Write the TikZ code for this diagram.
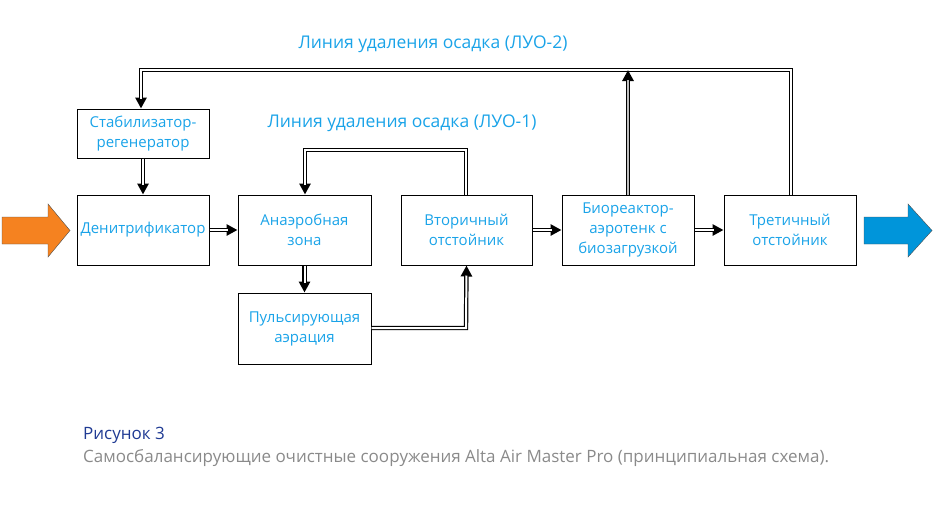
\documentclass[tikz,border=0pt]{standalone}
\usepackage{fontspec}
\setmainfont{Open Sans}
\usetikzlibrary{arrows.meta}
\definecolor{txt}{HTML}{1AA3E8}
\definecolor{cap}{HTML}{1F3A93}
\definecolor{capg}{HTML}{8A8A8A}
\definecolor{org}{HTML}{F58220}
\definecolor{blu}{HTML}{0095DA}
\newcommand{\dlink}[2][white]{%
  \draw[black,line width=4.4pt,-{Stealth[length=11pt,width=11pt,inset=0pt]}] #2;
  \draw[#1,line width=2pt,shorten >=10pt] #2;}
\begin{document}
\begin{tikzpicture}[x=1pt,y=-1pt,
  box/.style={draw,line width=1pt,inner sep=0pt,text=txt,align=center,font=\fontsize{15}{20}\selectfont},
  lbl/.style={text=txt,font=\fontsize{17.5}{20}\selectfont}]
\useasboundingbox (0,0) rectangle (934,512);
\node[box,minimum width=132pt,minimum height=49pt] (stab) at (143,133.5) {Стабилизатор-\\регенератор};
\node[box,minimum width=132pt,minimum height=70pt] (den) at (143,230) {Денитрификатор};
\node[box,minimum width=133pt,minimum height=70pt] (ana) at (304.5,230) {Анаэробная\\зона};
\node[box,minimum width=133pt,minimum height=71pt] (pul) at (304.5,328.5) {Пульсирующая\\аэрация};
\node[box,minimum width=131pt,minimum height=70pt] (vt) at (466.5,230) {Вторичный\\отстойник};
\node[box,minimum width=132pt,minimum height=70pt] (bio) at (628,230) {Биореактор-\\аэротенк с\\биозагрузкой};
\node[box,minimum width=132pt,minimum height=70pt] (tr) at (790,230) {Третичный\\отстойник};
\node[lbl] (l2) at (433,44) {Линия удаления осадка (ЛУО-2)};
\node[lbl] (l1) at (402,123) {Линия удаления осадка (ЛУО-1)};
\node[anchor=west,text=cap,font=\fontsize{17}{20}\selectfont,inner sep=0pt] (c1) at (83,435) {Рисунок 3};
\node[anchor=west,text=capg,font=\fontsize{17}{20}\selectfont,inner sep=0pt] (c2) at (83,458) {Самосбалансирующие очистные сооружения Alta Air Master Pro (принципиальная схема).};
\coordinate (a1) at (141,70);
\coordinate (a2) at (791,70);
\coordinate (bt) at (628,70);
\coordinate (b1) at (305,150);
\coordinate (b2) at (466,150);
\coordinate (p1) at (466,328);
\dlink{(tr.north -| a2) -- (a2) -- (a1) -- (stab.north -| a1)}
\dlink[gray!50]{(bio.north) -- (bt)}
\dlink{(stab.south) -- (den.north)}
\dlink{(den.east) -- (ana.west)}
\dlink{(ana.south) -- (pul.north)}
\dlink{(pul.east |- p1) -- (p1) -- (vt.south)}
\dlink{(vt.north -| b2) -- (b2) -- (b1) -- (ana.north -| b1)}
\dlink{(vt.east) -- (bio.west)}
\dlink{(bio.east) -- (tr.west)}
\draw[fill=org,draw=gray!60!black,line width=0.4pt] (2,217) -- (48,217) -- (48,204) -- (70,230.5) -- (48,257) -- (48,244) -- (2,244) -- cycle;
\draw[fill=blu,draw=gray!60!black,line width=0.4pt] (864,217) -- (908,217) -- (908,204) -- (932,230.5) -- (908,257) -- (908,244) -- (864,244) -- cycle;
\end{tikzpicture}
\end{document}
